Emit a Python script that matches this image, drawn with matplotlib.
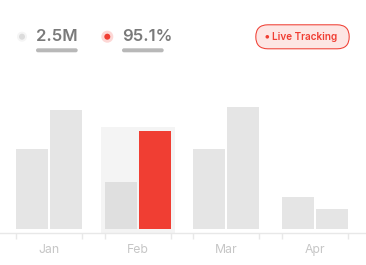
import matplotlib
matplotlib.use("Agg")
import numpy as np
import matplotlib.pyplot as plt
from matplotlib.patches import FancyBboxPatch, Circle

months = ["Jan", "Feb", "Mar", "Apr"]
series_a = [65, 38, 65, 26]
series_b = [97, 80, 100, 16]
active = 1  # Feb highlighted
stat_left = "2.5M"
stat_right = "95.1%"
badge_text = "Live Tracking"

RED = "#f03e33"
GRAY = "#e5e5e5"
plt.rcParams['font.family'] = ['Inter', 'DejaVu Sans']

W, H = 366, 265
fig = plt.figure(figsize=(W / 100, H / 100), dpi=100)
fig.patch.set_facecolor("white")

# bar axes: x in group units, y in value units (1.22 px per unit)
px_per_grp = 88.7
px_per_val = 1.22
x0 = 49.0
ax_bottom = 233.3
ax_top = 95.0
ax = fig.add_axes([0, (H - ax_bottom) / H, 1, (ax_bottom - ax_top) / H])
ax.set_xlim(-x0 / px_per_grp, (W - x0) / px_per_grp)
ax.set_ylim(-4.8 / px_per_val, -4.8 / px_per_val + (ax_bottom - ax_top) / px_per_val)

x = np.arange(len(months))
bw = 32 / px_per_grp
off = 17 / px_per_grp

# highlight background for active month
bg_bottom = -3.4
ax.bar(x[active], max(series_a[active], series_b[active]) + 3.3 - bg_bottom,
       width=74 / px_per_grp, bottom=bg_bottom, color="#f4f4f4", zorder=1)

cols_a = ["#dfdfdf" if i == active else GRAY for i in range(len(months))]
cols_b = [RED if i == active else GRAY for i in range(len(months))]
ax.bar(x - off, series_a, width=bw, color=cols_a, zorder=2)
ax.bar(x + off, series_b, width=bw, color=cols_b, zorder=2)

for s in ["top", "right", "left"]:
    ax.spines[s].set_visible(False)
ax.spines["bottom"].set_color("#e8e8e8")
ax.spines["bottom"].set_linewidth(1)
ax.set_yticks([])
ax.set_xticks(x)
ax.set_xticklabels(months)
ax.tick_params(axis="x", which="major", length=0, pad=8, labelsize=8.8, labelcolor="#c6c6c6")
edges = np.concatenate([x - 33 / px_per_grp, x + 33 / px_per_grp])
ax.set_xticks(edges, minor=True)
ax.tick_params(axis="x", which="minor", length=4, width=1, color="#e8e8e8")
ax.set_facecolor("none")

# header overlay in pixel coordinates
ov = fig.add_axes([0, 0, 1, 1], facecolor="none")
ov.set_xlim(0, W)
ov.set_ylim(H, 0)
ov.axis("off")

ov.add_patch(Circle((22, 36.7), 5, color="#f5f5f5", lw=0))
ov.add_patch(Circle((22, 36.7), 3, color="#dcdcdc", lw=0))
ov.text(36, 36.5, stat_left, fontsize=12, fontweight="semibold", color="#7a7a7a", va="center", ha="left")
ov.add_patch(FancyBboxPatch((36, 48.3), 41.7, 4, boxstyle="round,pad=0,rounding_size=2",
                            color="#b8b8b8", lw=0))

ov.add_patch(Circle((107.3, 36.7), 6, color="#fdd7d5", lw=0))
ov.add_patch(Circle((107.3, 36.7), 3, color=RED, lw=0))
ov.text(122, 36.5, stat_right, fontsize=12, fontweight="semibold", color="#7a7a7a", va="center", ha="left")
ov.add_patch(FancyBboxPatch((122, 48.3), 41.7, 4, boxstyle="round,pad=0,rounding_size=2",
                            color="#b8b8b8", lw=0))

ov.add_patch(FancyBboxPatch((255.8, 24.8), 93.4, 24, boxstyle="round,pad=0,rounding_size=12",
                            facecolor="#fde6e4", edgecolor=RED, lw=0.75))
ov.add_patch(Circle((267.3, 36.8), 1.8, color=RED, lw=0))
ov.text(272.5, 37, badge_text, fontsize=7.2, fontweight="semibold", color=RED, va="center", ha="left")

fig.savefig("out.png", dpi=100)
